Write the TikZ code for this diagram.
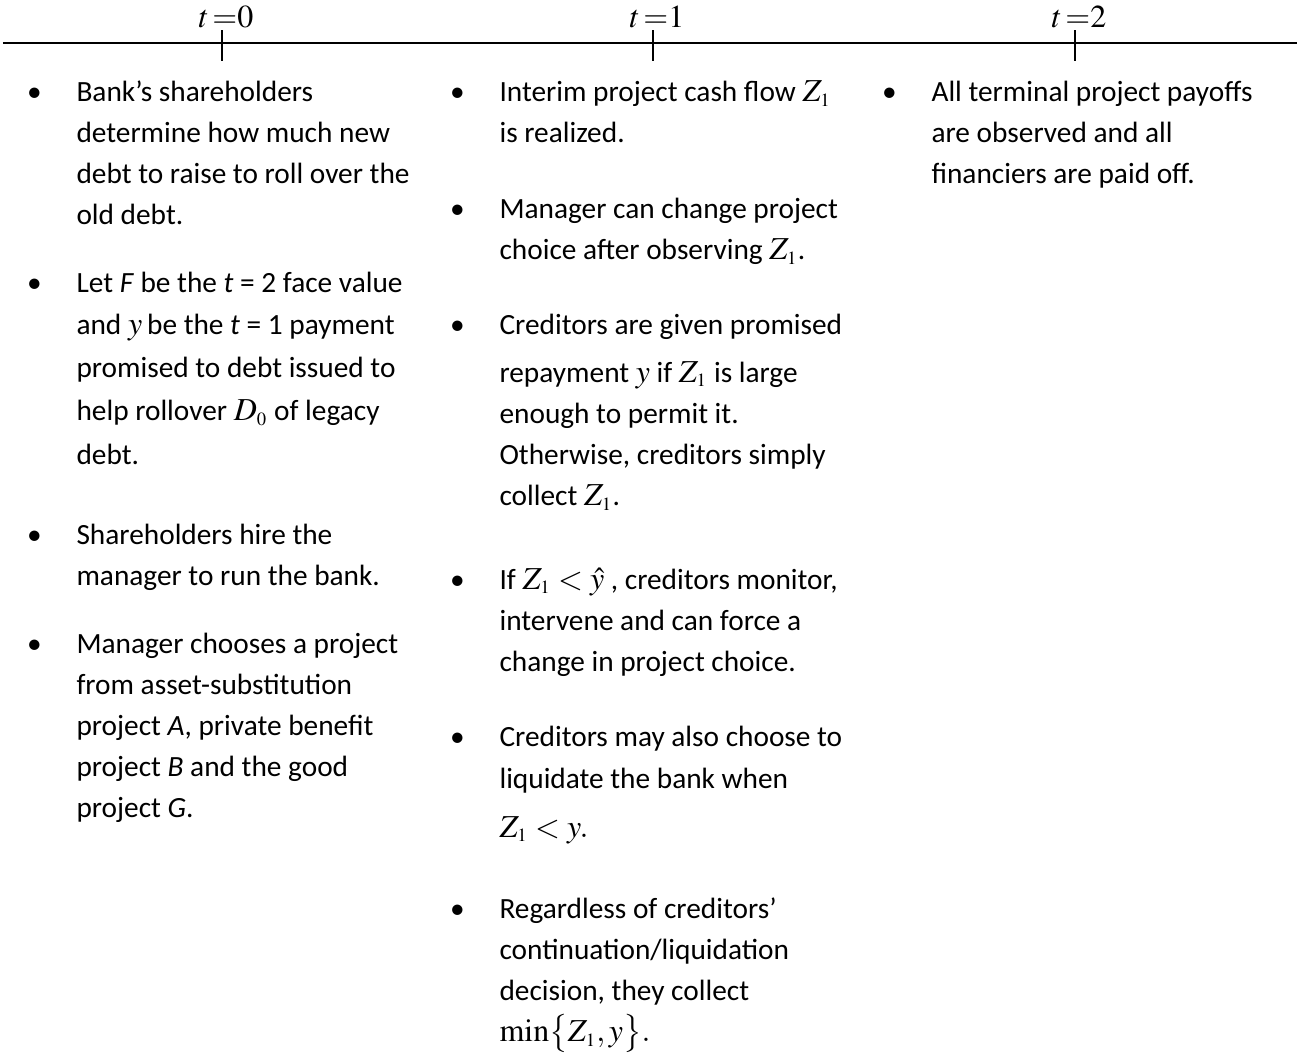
\documentclass[tikz,border=0pt]{standalone}
\usepackage{mathptmx}
\usepackage{fontspec}
\setmainfont{Carlito}
\usepackage{enumitem}
\usetikzlibrary{positioning}
\DeclareMathSizes{11}{12}{7}{5}

\newlist{events}{itemize}{1}
\setlist[events]{label=\makebox[0pt]{\textbullet},labelwidth=0pt,labelsep=15.75pt,
  leftmargin=15.75pt,itemsep=10pt,parsep=0pt,topsep=0pt,partopsep=0pt}

\tikzset{
  timeline/.style={line width=0.8pt},
  tickmark/.style={line width=0.45pt},
  datelabel/.style={anchor=base,inner sep=0pt,font=\fontsize{12}{14}\selectfont},
  eventcol/.style={anchor=north west,inner sep=0pt,align=flush left,
    font=\fontsize{11}{15.4}\selectfont}
}

\begin{document}
\begin{tikzpicture}[x=0.375pt,y=0.375pt]
        \useasboundingbox (0,0) rectangle (1297,-1055);
        \draw[timeline] (3,-43) -- (1297,-43);
        \draw[tickmark] (222,-30) -- (222,-61);
        \draw[tickmark] (653,-30) -- (653,-61);
        \draw[tickmark] (1075,-30) -- (1075,-61);
        \node[datelabel] (t0) at (226,-27) {$t\,{=}0$};
        \node[datelabel] (t1) at (657,-27) {$t\,{=}1$};
        \node[datelabel] (t2) at (1079,-27) {$t\,{=}2$};
        \node[eventcol,text width=155pt] (col0) at (34,-60) {%
          \begin{events}
          \item Bank’s shareholders\\determine how much new\\debt to raise to roll over the\\old debt.
          \item Let \textit{F} be the \textit{t} = 2 face value\\[0.4pt]and~$y$\,be the \textit{t} = 1 payment\\[0.75pt]promised to debt issued to\\[0.75pt]help rollover~$D_0$~of legacy\\[1pt]debt.\vspace{4.5pt}
          \item Shareholders hire the\\manager to run the bank.
          \item Manager chooses a project\\from asset-substitution\\project \textit{A}, private benefit\\project \textit{B} and the good\\project \textit{G}.
          \end{events}};
        \node[eventcol,text width=158pt] (col1) at (457,-60) {%
          \begin{events}
          \item Interim project cash flow~$Z_1$\\is realized.\vspace{3pt}
          \item Manager can change project\\choice after observing~$Z_1$.\vspace{2.6pt}
          \item Creditors are given promised\\[2.6pt]repayment~$y$~if~$Z_1$~is large\\enough to permit it.\\Otherwise, creditors simply\\collect~$Z_1$.\vspace{6pt}
          \item If~$Z_1<\hat{y}$~, creditors monitor,\\intervene and can force a\\change in project choice.\vspace{3pt}
          \item Creditors may also choose to\\liquidate the bank when\\[3pt]$Z_1<y.$\vspace{5pt}
          \item Regardless of creditors’\\continuation/liquidation\\decision, they collect\\$\min\bigl\{Z_1,y\bigr\}.$
          \end{events}};
        \node[eventcol,text width=150pt] (col2) at (889,-60) {%
          \begin{events}
          \item All terminal project payoffs\\are observed and all\\financiers are paid off.
          \end{events}};
      \end{tikzpicture}
\end{document}
